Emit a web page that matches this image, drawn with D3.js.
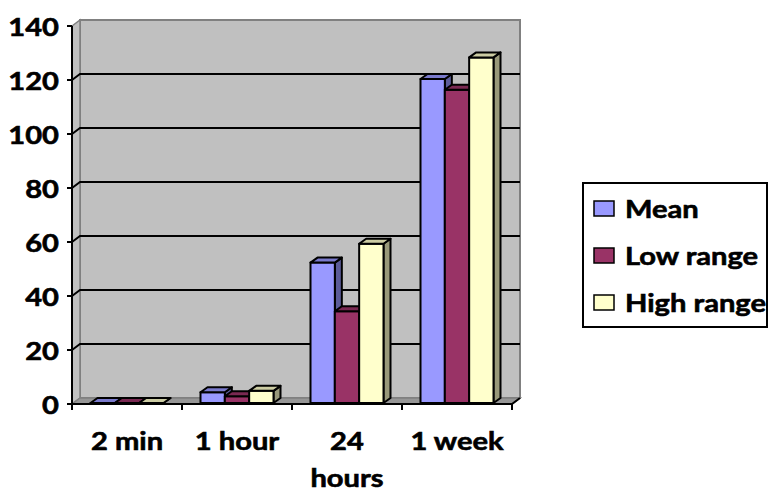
<!DOCTYPE html>
<html>
<head>
<meta charset="utf-8">
<script src="https://cdn.jsdelivr.net/npm/d3@7/dist/d3.min.js"></script>
<style>
  html, body { margin: 0; padding: 0; background: #ffffff; }
  svg { display: block; }
  text { font-family: "Lato", "Open Sans", sans-serif; font-weight: 700; fill: #000; stroke: #000; stroke-width: 0.6px; }
</style>
</head>
<body>
<svg id="chart" width="768" height="494"></svg>
<script>
// Chart data
const categories = ["2 min", "1 hour", "24 hours", "1 week"];
const seriesNames = ["Mean", "Low range", "High range"];
const meanValues = [0, 4, 52, 120];
const lowRangeValues = [0, 2.5, 34, 116];
const highRangeValues = [0, 4.5, 59, 128];
const yTickValues = [0, 20, 40, 60, 80, 100, 120, 140];

const seriesValues = [meanValues, lowRangeValues, highRangeValues];
const frontColors = ["#9999ff", "#993366", "#ffffcc"];
const sideColors = ["#5c5c99", "#5c1f3d", "#99997a"];
const topColors = ["#7a7acc", "#7a2952", "#cccca3"];

// Layout of the 3-D box
const plot = { left: 72, right: 512, base: 404, top: 26 };
const wall = { dx: 8, dy: -6 };          // depth of walls / floor
const bar = { base: 403, dx: 7, dy: -5 }; // depth of each column
const fontSize = 25;

const svg = d3.select("#chart");

// Text is drawn slightly widened to fit the wide label style
const probe = svg.append("text").attr("font-size", fontSize).text("High range");
const sx = 141 / probe.node().getComputedTextLength();
probe.remove();

const y = d3.scaleLinear().domain([0, 140]).range([plot.base, plot.top]);
const yBar = d3.scaleLinear().domain([0, 140]).range([bar.base, bar.base - (plot.base - plot.top)]);
const x0 = d3.scaleBand().domain(categories).range([plot.left, plot.right]).padding(0);
const x1 = d3.scaleBand().domain(seriesNames).range([18.5, 91.5]).padding(0);

const g = svg.append("g");
const pt = (a) => a.map(p => p.join(",")).join(" ");

// Back wall
g.append("polygon")
  .attr("points", pt([
    [plot.left + wall.dx, y(140) + wall.dy], [plot.right + wall.dx, y(140) + wall.dy],
    [plot.right + wall.dx, y(0) + wall.dy], [plot.left + wall.dx, y(0) + wall.dy]]))
  .attr("fill", "#c0c0c0").attr("stroke", "#808080").attr("stroke-width", 2);

// Left side wall
g.append("polygon")
  .attr("points", pt([
    [plot.left, y(140)], [plot.left + wall.dx, y(140) + wall.dy],
    [plot.left + wall.dx, y(0) + wall.dy], [plot.left, y(0)]]))
  .attr("fill", "#c0c0c0").attr("stroke", "#808080").attr("stroke-width", 1.5);

// Floor
g.append("polygon")
  .attr("points", pt([
    [plot.left, y(0)], [plot.right, y(0)],
    [plot.right + wall.dx, y(0) + wall.dy], [plot.left + wall.dx, y(0) + wall.dy]]))
  .attr("fill", "#969696").attr("stroke", "#808080").attr("stroke-width", 1.5);

// Gridlines across side wall and back wall
const gridVals = yTickValues.filter(v => v > 0 && v < 140);
g.selectAll("polyline.grid").data(gridVals).join("polyline")
  .attr("class", "grid")
  .attr("points", v => pt([[plot.left, y(v)], [plot.left + wall.dx, y(v) + wall.dy], [plot.right + wall.dx, y(v) + wall.dy]]))
  .attr("fill", "none").attr("stroke", "#000").attr("stroke-width", 2);

// Columns
const barData = [];
categories.forEach((c, ci) => {
  seriesNames.forEach((s, si) => {
    barData.push({ c, s, si, v: seriesValues[si][ci] });
  });
});

const bars = g.selectAll("g.bar").data(barData).join("g").attr("class", "bar");
bars.each(function (d) {
  const el = d3.select(this);
  const xl = x0(d.c) + x1(d.s);
  const xr = xl + x1.bandwidth();
  const yt = yBar(d.v);
  const yb = bar.base;
  // side face
  el.append("polygon")
    .attr("points", pt([[xr, yt], [xr + bar.dx, yt + bar.dy], [xr + bar.dx, yb + bar.dy], [xr, yb]]))
    .attr("fill", sideColors[d.si]).attr("stroke", "#000").attr("stroke-width", 2).attr("stroke-linejoin", "round");
  // front face
  el.append("polygon")
    .attr("points", pt([[xl, yt], [xr, yt], [xr, yb], [xl, yb]]))
    .attr("fill", frontColors[d.si]).attr("stroke", "#000").attr("stroke-width", 2).attr("stroke-linejoin", "round");
  // top face
  el.append("polygon")
    .attr("points", pt([[xl, yt], [xl + bar.dx, yt + bar.dy], [xr + bar.dx, yt + bar.dy], [xr, yt]]))
    .attr("fill", topColors[d.si]).attr("stroke", "#000").attr("stroke-width", 2).attr("stroke-linejoin", "round");
});

// Value axis
g.append("line")
  .attr("x1", plot.left).attr("x2", plot.left).attr("y1", y(140)).attr("y2", y(0))
  .attr("stroke", "#000").attr("stroke-width", 2);
g.selectAll("line.ytick").data(yTickValues).join("line")
  .attr("class", "ytick")
  .attr("x1", plot.left - 5).attr("x2", plot.left).attr("y1", d => y(d)).attr("y2", d => y(d))
  .attr("stroke", "#000").attr("stroke-width", 2);
g.selectAll("text.ylab").data(yTickValues).join("text")
  .attr("class", "ylab")
  .attr("font-size", fontSize)
  .attr("text-anchor", "end")
  .attr("dominant-baseline", "central")
  .attr("transform", d => `translate(59,${y(d)}) scale(${sx},1)`)
  .text(d => d);

// Category axis
g.append("polyline")
  .attr("points", pt([[plot.left, y(0)], [plot.right, y(0)], [plot.right + wall.dx, y(0) + wall.dy]]))
  .attr("fill", "none").attr("stroke", "#000").attr("stroke-width", 2);
const xTickPos = categories.map(c => x0(c)).concat([plot.right]);
g.selectAll("line.xtick").data(xTickPos).join("line")
  .attr("class", "xtick")
  .attr("x1", d => d).attr("x2", d => d).attr("y1", y(0)).attr("y2", y(0) + 6)
  .attr("stroke", "#000").attr("stroke-width", 2);

categories.forEach(c => {
  const cx = x0(c) + x0.bandwidth() / 2;
  const t = g.append("text")
    .attr("font-size", fontSize)
    .attr("text-anchor", "middle")
    .attr("transform", `translate(${cx},450) scale(${sx},1)`);
  const full = t.text(c).node().getComputedTextLength() * sx;
  if (full > x0.bandwidth() - 4 && c.includes(" ")) {
    const i = c.lastIndexOf(" ");
    t.text(null);
    t.append("tspan").attr("x", 0).attr("y", 0).text(c.slice(0, i));
    t.append("tspan").attr("x", 0).attr("y", 37).text(c.slice(i + 1));
  }
});

// Legend
const legend = svg.append("g");
legend.append("rect")
  .attr("x", 583).attr("y", 183).attr("width", 184).attr("height", 144)
  .attr("fill", "#fff").attr("stroke", "#000").attr("stroke-width", 2);
const rowY = d3.scalePoint().domain(seriesNames).range([208.5, 302.5]);
seriesNames.forEach((s, i) => {
  legend.append("rect")
    .attr("x", 594).attr("y", rowY(s) - 7.5).attr("width", 20).attr("height", 15)
    .attr("fill", frontColors[i]).attr("stroke", "#000").attr("stroke-width", 1.5);
  legend.append("text")
    .attr("font-size", fontSize)
    .attr("dominant-baseline", "central")
    .attr("transform", `translate(625,${rowY(s)}) scale(${sx},1)`)
    .text(s);
});
</script>
</body>
</html>
